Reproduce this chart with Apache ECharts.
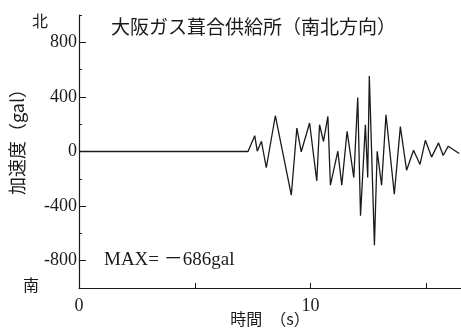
<!DOCTYPE html>
<html>
<head>
<meta charset="utf-8">
<script src="https://cdn.jsdelivr.net/npm/echarts@6/dist/echarts.min.js"></script>
<style>
  html, body { margin: 0; padding: 0; background: #fff; }
  #main { width: 461px; height: 329px; }
</style>
</head>
<body>
<div id="main"></div>
<script>
// 時間 (s)
const times = [0, 7.30, 7.59, 7.70, 7.88, 8.09, 8.48, 9.17, 9.41, 9.60,
  9.96, 10.27, 10.39, 10.56, 10.75, 10.86, 11.18, 11.35, 11.58, 11.87,
  12.04, 12.16, 12.37, 12.47, 12.54, 12.76, 12.88, 13.07, 13.26, 13.62,
  13.88, 14.15, 14.45, 14.73, 14.96, 15.23, 15.53, 15.73, 15.95, 16.42]
// 加速度 (gal)
const accel = [0, 0, 116, 2, 75, -119, 262, -320, 172, -2,
  209, -216, 196, 75, 257, -247, 2, -247, 148, -191,
  395, -470, 196, -191, 553, -686, 2, -247, 269, -313,
  182, -138, 9, -95, 82, -41, 63, -29, 39, -15]
const yMajorTicks = [-800, -400, 0, 400, 800]
const xLabelTicks = [0, 10]

const serif = 'Liberation Serif, Noto Sans CJK JP'
const cjk = 'Noto Sans CJK JP'
const ink = '#1a1a1a'

const chart = echarts.init(document.getElementById('main'))

const option = {
  animation: false,
  title: {
    text: '大阪ガス葺合供給所（南北方向）',
    left: 106,
    top: 12,
    textStyle: { fontFamily: cjk, fontWeight: 'normal', fontSize: 19, color: ink },
  },
  grid: { left: 79, right: 0, top: 15, bottom: 41, outerBoundsMode: 'none', containLabel: false },
  xAxis: [
    {
      type: 'value',
      min: 0,
      max: 16.5,
      interval: 5,
      name: '時間　（s）',
      nameLocation: 'middle',
      nameGap: 23,
      nameMoveOverlap: false,
      nameTextStyle: { fontFamily: cjk, fontSize: 16, color: ink },
      axisLine: { show: true, onZero: false, lineStyle: { color: ink, width: 1 } },
      axisTick: { show: true, inside: true, length: 5, lineStyle: { color: ink } },
      axisLabel: {
        show: true,
        margin: 9,
        showMaxLabel: false,
        fontFamily: serif,
        fontSize: 18,
        color: ink,
        formatter: (v) => (xLabelTicks.includes(v) ? String(v) : ''),
      },
      splitLine: { show: false },
    },
  ],
  yAxis: [
    {
      type: 'value',
      min: -1000,
      max: 1000,
      interval: 200,
      name: '加速度（gal）',
      nameLocation: 'middle',
      nameGap: 53,
      nameRotate: 90,
      nameMoveOverlap: false,
      nameTextStyle: { fontFamily: cjk, fontSize: 18, color: ink, padding: [0, 0, 0, 28] },
      axisLine: { show: true, onZero: false, lineStyle: { color: ink, width: 1.2 } },
      axisTick: { show: true, inside: true, length: 3, lineStyle: { color: ink } },
      axisLabel: {
        margin: 2,
        fontFamily: serif,
        fontSize: 18,
        color: ink,
        formatter: (v) => (yMajorTicks.includes(v) ? String(v) : ''),
      },
      splitLine: { show: false },
    },
    {
      type: 'value',
      min: -1000,
      max: 1000,
      position: 'left',
      axisLine: { show: false, onZero: false },
      axisTick: { show: true, inside: true, length: 7, customValues: yMajorTicks, lineStyle: { color: ink } },
      axisLabel: { show: false },
      splitLine: { show: false },
    },
  ],
  graphic: [
    { type: 'text', left: 32, top: 13, style: { text: '北', font: '16px "Noto Sans CJK JP"', fill: ink } },
    { type: 'text', left: 23, top: 277, style: { text: '南', font: '16px "Noto Sans CJK JP"', fill: ink } },
    { type: 'text', left: 104, top: 251, style: { text: 'MAX= －686gal', font: '19px "Liberation Serif", "Noto Sans CJK JP"', fill: ink } },
  ],
  series: [
    {
      type: 'line',
      yAxisIndex: 0,
      symbol: 'none',
      lineStyle: { color: ink, width: 1.3 },
      data: times.map((t, i) => [t, accel[i]]),
    },
  ],
}

chart.setOption(option)
</script>
</body>
</html>
